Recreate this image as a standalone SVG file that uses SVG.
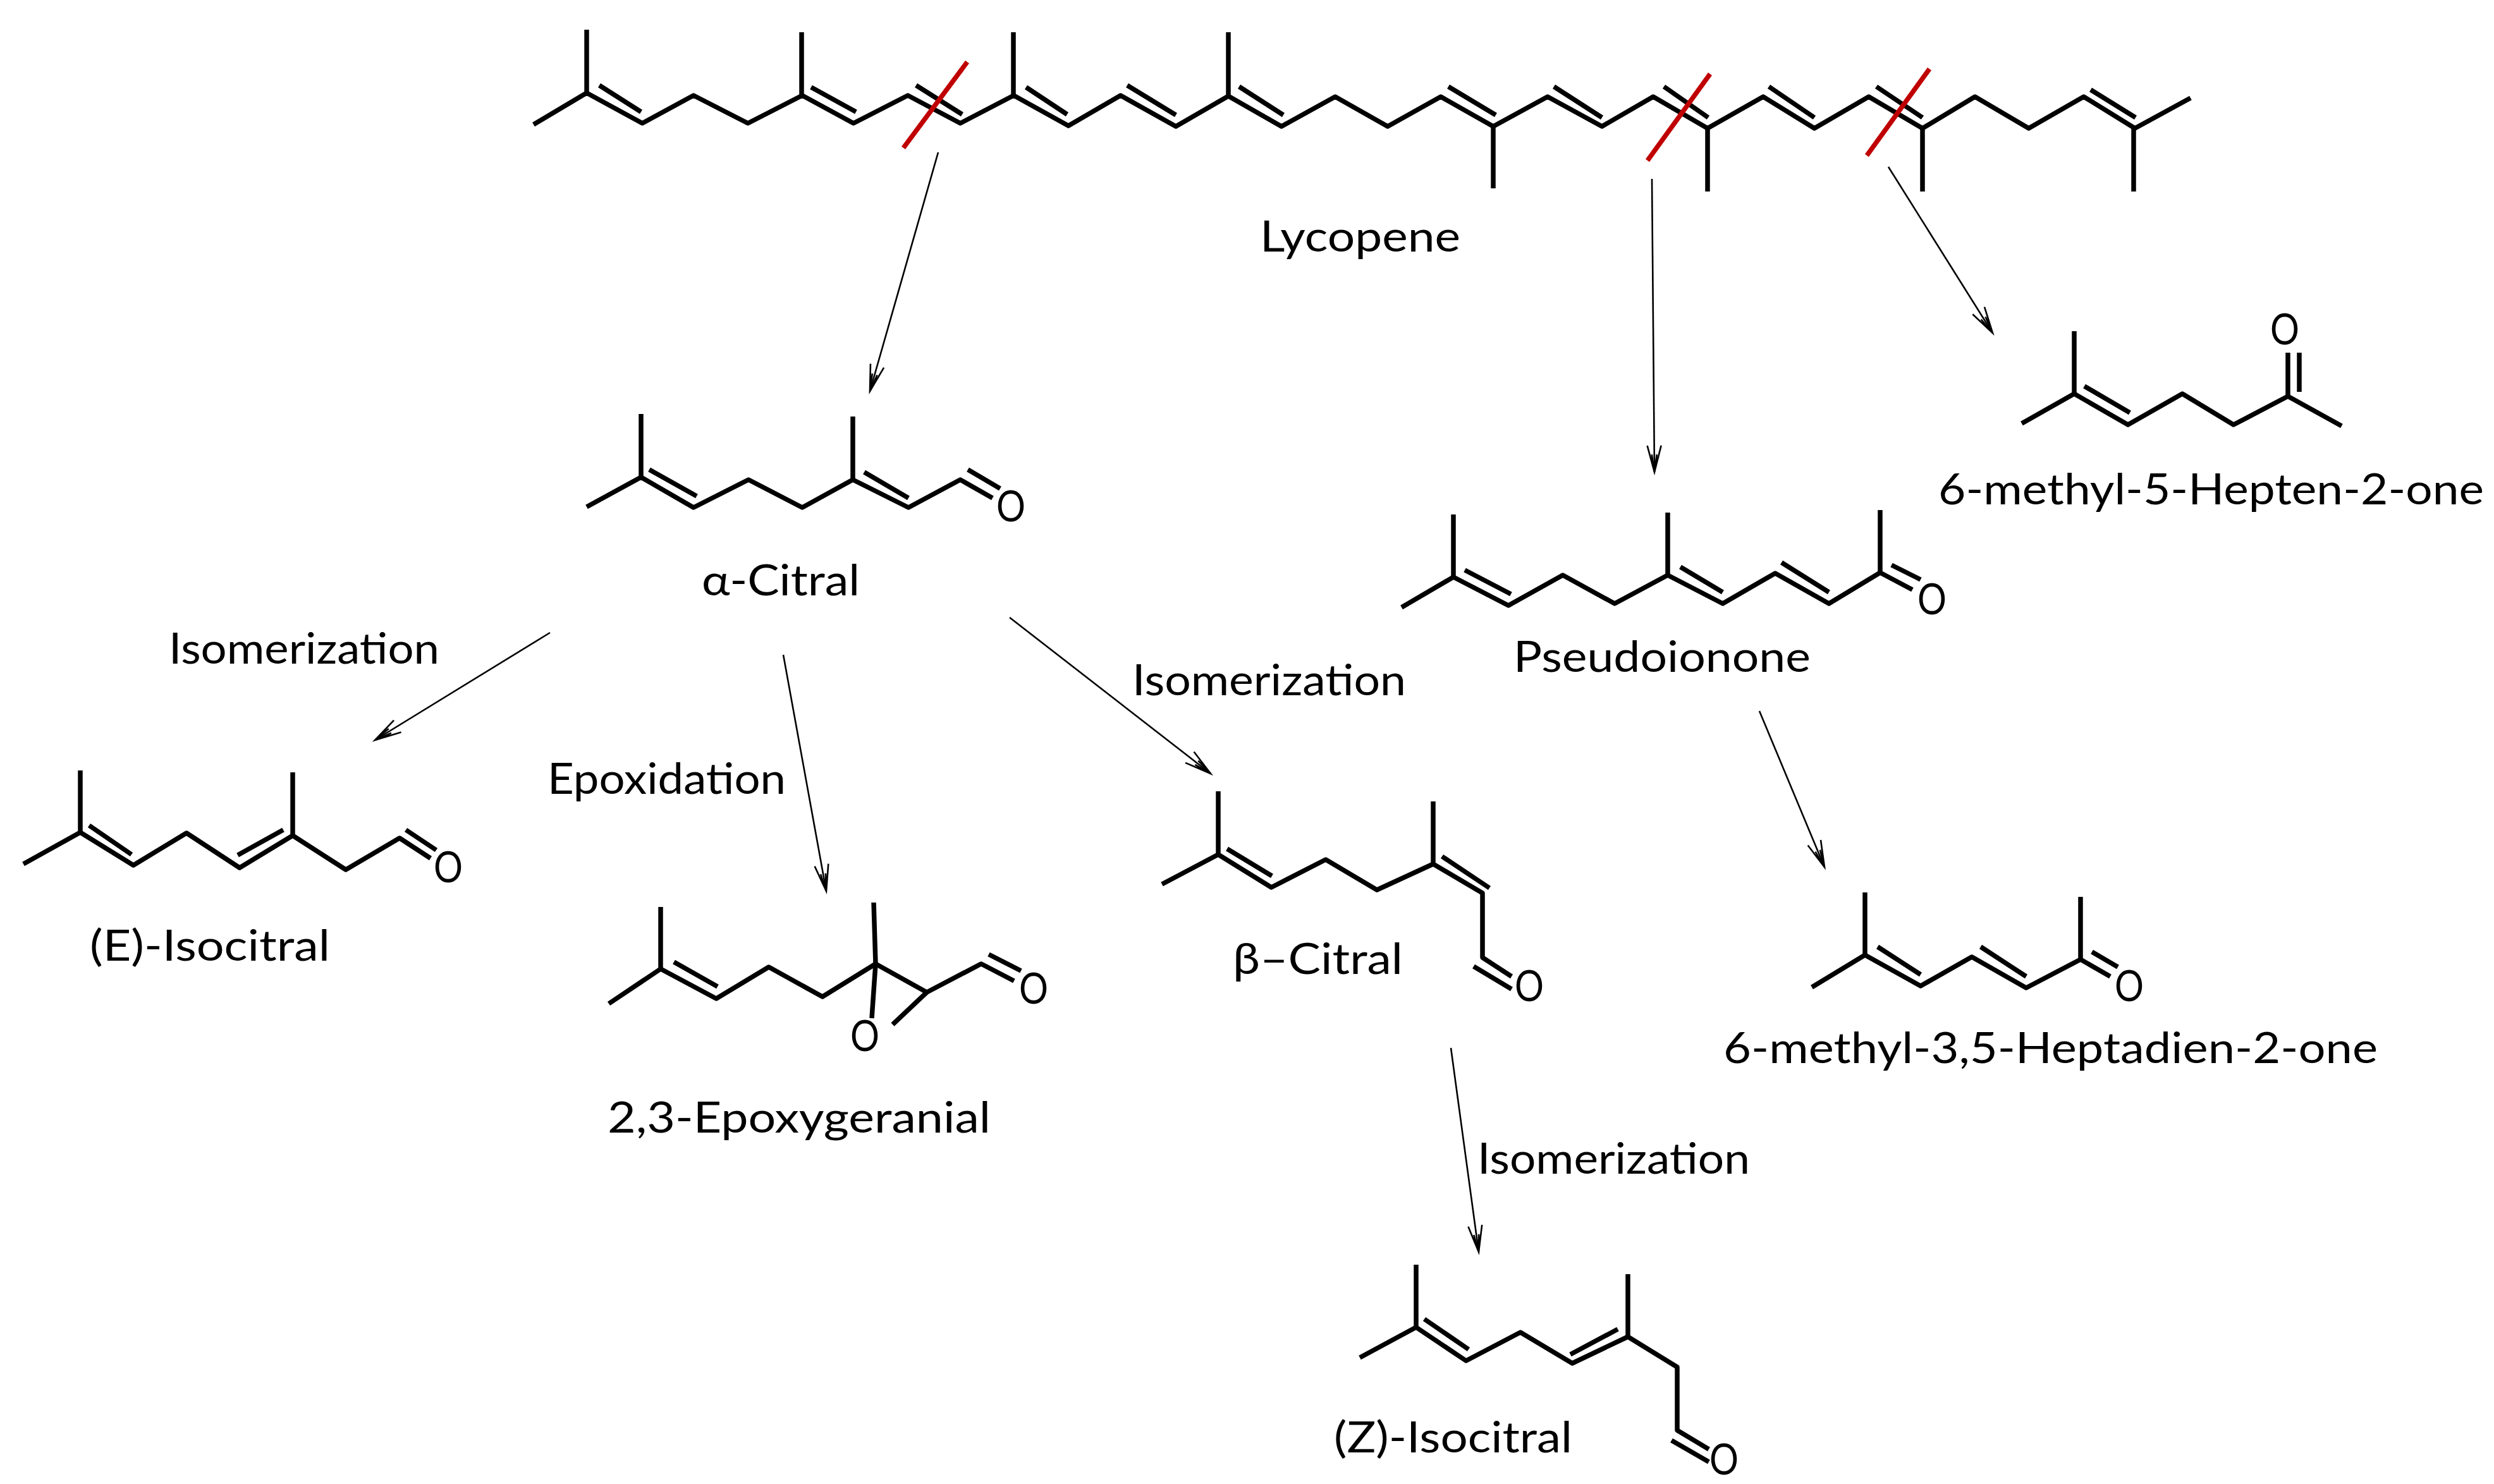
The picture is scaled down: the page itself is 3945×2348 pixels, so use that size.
<svg xmlns="http://www.w3.org/2000/svg" width="3945" height="2348" viewBox="0 0 3945 2348">
<style>
.b{fill:none;stroke:#000;stroke-width:7.5;stroke-linejoin:round;stroke-linecap:butt}
.r{fill:none;stroke:#c00000;stroke-width:7.5}
.a{fill:none;stroke:#000;stroke-width:2.6}
text{font-family:"Lato","Noto Sans","Liberation Sans",sans-serif;font-size:67px;fill:#000}
</style>
<defs>
<marker id="h" markerUnits="userSpaceOnUse" markerWidth="60" markerHeight="40" refX="52" refY="20" orient="auto" overflow="visible">
<path d="M10,9 L52,20 L10,31 M24,16 L52,20 L24,24" fill="none" stroke="#000" stroke-width="2.6"/>
</marker>
</defs>
<rect width="3945" height="2348" fill="#fff"/>
<g id="connectors">
<path class="a" marker-end="url(#h)" d="M1484,241 L1376,619"/>
<path class="a" marker-end="url(#h)" d="M2613,283 L2617,747"/>
<path class="a" marker-end="url(#h)" d="M2987,264 L3152,527"/>
<path class="a" marker-end="url(#h)" d="M870,1001 L593,1171"/>
<path class="a" marker-end="url(#h)" d="M1239,1036 L1307,1410"/>
<path class="a" marker-end="url(#h)" d="M1597,977 L1915,1224"/>
<path class="a" marker-end="url(#h)" d="M2783,1125 L2886,1372"/>
<path class="a" marker-end="url(#h)" d="M2295,1658 L2339,1981"/>
</g>
<g id="lycopene">
<path class="b" d="M844,197 928,147 1016,195 1097,151 1183,195 1269,151 1350,195 1436,151 1519,195 1603.5,151 1690,199 1772.5,151 1860,200 1943,152 2027,200 2112,153 2195,200 2279,153 2362,200 2448,153 2534,200 2615,153 2701,203 2789,153 2870,203 2956,153 3041,203 3124,153 3209,203 3296,153 3377,203 3465,155"/>
<path class="b" d="M928,47V147 M1268,51V151 M1603,51V151 M1943,51V152 M2362,200V298 M2701,203V303 M3041,203V303 M3375,203V303"/>
<path class="b" d="M948,135 1014,177 M1283,138 1354,177 M1449,135 1522,181 M1623,138 1688,181 M1783,135 1860,182 M1960,137 2030,182 M2291,137 2366,182 M2458,137 2534,186 M2632,137 2702,186 M2798,137 2870,186 M2968,137 3041,186 M3307,142 3378,186"/>
<path class="r" d="M1429,234 1530,98 M2606,254 2705,117 M2953,246 3052,109"/>
<text x="1993" y="398" textLength="317" lengthAdjust="spacingAndGlyphs">Lycopene</text>
</g>
<g id="alpha-citral">
<path class="b" d="M928,802 1014,755 1097,803 1184,759 1269,803 1349,759 1437,803 1519,759 1570,788"/>
<path class="b" d="M1014,655V755 M1349,659V759 M1027,743 1102,785 M1367,747 1437,788 M1531,743 1582,773"/>
<text x="1576" y="825" textLength="46" lengthAdjust="spacingAndGlyphs">O</text>
<text x="1110" y="942" textLength="250" lengthAdjust="spacingAndGlyphs">α-Citral</text>
</g>
<g id="pseudoionone">
<path class="b" d="M2217,961 2299,913 2386,958 2472,910 2554,955 2638,910 2725,955 2808,907 2893,955 2974,906 3025,933"/>
<path class="b" d="M2299,814V913 M2638,811V910 M2974,807V906 M2317,902 2390,940 M2658,897 2725,937 M2818,890 2893,937 M2992,894 3038,917"/>
<text x="3033" y="972" textLength="46" lengthAdjust="spacingAndGlyphs">O</text>
<text x="2394" y="1063" textLength="470" lengthAdjust="spacingAndGlyphs">Pseudoionone</text>
</g>
<g id="methylheptenone">
<path class="b" d="M3198,670 3281,623 3366,672 3452,623 3533,672 3619,627 3704,674"/>
<path class="b" d="M3281,524V623 M3619,558V627 M3637,558V620 M3297,611 3369,653"/>
<text x="3591" y="545" textLength="46" lengthAdjust="spacingAndGlyphs">O</text>
<text x="3066" y="798" textLength="863" lengthAdjust="spacingAndGlyphs">6-methyl-5-Hepten-2-one</text>
</g>
<g id="e-isocitral">
<path class="b" d="M37,1367 127,1317 211,1369 295,1318 379,1373 463,1322 547,1376 632,1326 681,1358"/>
<path class="b" d="M127,1219V1317 M463,1222V1322 M141,1306 208,1352 M376,1353 448,1313 M642,1313 690,1345"/>
<text x="686" y="1396" textLength="46" lengthAdjust="spacingAndGlyphs">O</text>
<text x="142" y="1520" textLength="380" lengthAdjust="spacingAndGlyphs">(E)-Isocitral</text>
</g>
<g id="epoxygeranial">
<path class="b" d="M963,1588 1045,1533 1133,1580 1216,1530 1301,1577 1385,1525 1466,1570 1552,1525 1604,1552"/>
<path class="b" d="M1045,1435V1533 M1382,1428 1385,1525 1379,1611 M1466,1570 1412,1621 M1066,1522 1135,1561 M1564,1510 1615,1536"/>
<text x="1612" y="1588" textLength="46" lengthAdjust="spacingAndGlyphs">O</text>
<text x="1345" y="1663" textLength="46" lengthAdjust="spacingAndGlyphs">O</text>
<text x="961" y="1792" textLength="606" lengthAdjust="spacingAndGlyphs">2,3-Epoxygeranial</text>
</g>
<g id="beta-citral">
<path class="b" d="M1838,1399 1927,1352 2011,1404 2097,1360 2178,1408 2267,1367 2345,1413 2345,1515 2391,1545"/>
<path class="b" d="M1927,1252V1352 M2267,1268V1367 M1941,1343 2012,1386 M2281,1355 2356,1405 M2331,1529 2391,1565"/>
<text x="2396" y="1584" textLength="46" lengthAdjust="spacingAndGlyphs">O</text>
<text x="1950" y="1541" textLength="269" lengthAdjust="spacingAndGlyphs">β–Citral</text>
</g>
<g id="methylheptadienone">
<path class="b" d="M2866,1562 2950,1511 3038,1560 3119,1514 3205,1563 3291,1518 3338,1545"/>
<path class="b" d="M2950,1412V1511 M3291,1419V1518 M2970,1498 3038,1542 M3133,1498 3205,1545 M3309,1506 3350,1530"/>
<text x="3345" y="1584" textLength="46" lengthAdjust="spacingAndGlyphs">O</text>
<text x="2726" y="1682" textLength="1035" lengthAdjust="spacingAndGlyphs">6-methyl-3,5-Heptadien-2-one</text>
</g>
<g id="z-isocitral">
<path class="b" d="M2151,2148 2240,2100 2319,2153 2405,2108 2487,2157 2575,2115 2653,2163 2653,2263 2703,2293"/>
<path class="b" d="M2240,2001V2100 M2575,2016V2115 M2253,2087 2323,2135 M2484,2143 2559,2103 M2644,2279 2703,2313"/>
<text x="2704" y="2333" textLength="46" lengthAdjust="spacingAndGlyphs">O</text>
<text x="2110" y="2298" textLength="377" lengthAdjust="spacingAndGlyphs">(Z)-Isocitral</text>
</g>
<g id="labels">
<text x="267" y="1050" textLength="428" lengthAdjust="spacingAndGlyphs">Isomerization</text>
<text x="866" y="1256" textLength="377" lengthAdjust="spacingAndGlyphs">Epoxidation</text>
<text x="1791" y="1100" textLength="433" lengthAdjust="spacingAndGlyphs">Isomerization</text>
<text x="2337" y="1857" textLength="431" lengthAdjust="spacingAndGlyphs">Isomerization</text>
</g>
</svg>
